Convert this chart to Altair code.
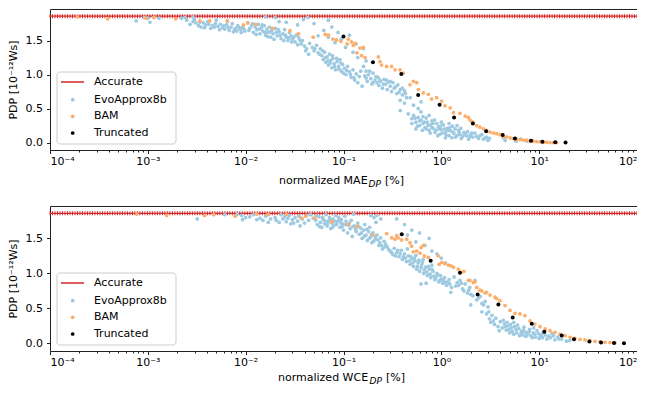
import altair as alt
import numpy as np
import pandas as pd

# ---------------- data ----------------
ACCURATE_PDP = 1.86
X_TICKS = [1e-4, 1e-3, 1e-2, 1e-1, 1e0, 1e1, 1e2]
X_TICK_LABELS = ["10⁻⁴", "10⁻³", "10⁻²", "10⁻¹", "10⁰", "10¹", "10²"]
Y_TICKS = [0.0, 0.5, 1.0, 1.5]
LEGEND_LABELS = ["Accurate", "EvoApprox8b", "BAM", "Truncated"]

# EvoApprox8b: (normalized MAE_DP [%], PDP)
evo_mae = [
    (7.6e-4, 1.79), (9.2e-4, 1.84), (1.0e-3, 1.83), (1.05e-3, 1.77), (1.15e-3, 1.84), (1.3e-3, 1.83),
    (2.2e-3, 1.83), (2.4e-3, 1.84), (2.5e-3, 1.80), (2.9e-3, 1.85),
    (2.7e-3, 1.74), (2.9e-3, 1.78), (3.1e-3, 1.76), (3.3e-3, 1.72), (3.5e-3, 1.70), (3.7e-3, 1.76),
    (3.9e-3, 1.73), (4.1e-3, 1.78), (4.4e-3, 1.68), (4.6e-3, 1.72), (4.9e-3, 1.75), (5.0e-3, 1.80),
    (5.2e-3, 1.71), (5.5e-3, 1.74), (5.8e-3, 1.69), (6.1e-3, 1.67), (6.4e-3, 1.73), (6.5e-3, 1.78),
    (6.8e-3, 1.65), (7.1e-3, 1.70), (7.5e-3, 1.63), (7.9e-3, 1.68), (8.3e-3, 1.72), (8.8e-3, 1.66),
    (9.3e-3, 1.70), (9.8e-3, 1.64),
    (3.0e-3, 1.81), (3.4e-3, 1.77), (3.8e-3, 1.69), (4.2e-3, 1.74), (4.8e-3, 1.70), (5.4e-3, 1.66),
    (6.0e-3, 1.72), (6.6e-3, 1.69), (7.3e-3, 1.75), (7.7e-3, 1.66), (8.1e-3, 1.64), (8.6e-3, 1.69),
    (9.0e-3, 1.62), (9.6e-3, 1.67),
    (1.05e-2, 1.76), (1.1e-2, 1.68), (1.15e-2, 1.72), (1.2e-2, 1.62), (1.25e-2, 1.70), (1.3e-2, 1.66),
    (1.35e-2, 1.74), (1.4e-2, 1.60), (1.45e-2, 1.69), (1.5e-2, 1.64), (1.55e-2, 1.72), (1.6e-2, 1.58),
    (1.65e-2, 1.67), (1.7e-2, 1.62), (1.75e-2, 1.70), (1.8e-2, 1.55), (1.85e-2, 1.65), (1.9e-2, 1.60),
    (2.0e-2, 1.68), (2.1e-2, 1.57), (2.2e-2, 1.63), (2.3e-2, 1.53), (2.4e-2, 1.60), (2.5e-2, 1.66),
    (2.6e-2, 1.55), (2.7e-2, 1.50), (2.8e-2, 1.62), (2.9e-2, 1.57), (3.0e-2, 1.52), (3.2e-2, 1.48),
    (3.3e-2, 1.58), (3.5e-2, 1.54), (3.7e-2, 1.45), (3.8e-2, 1.50), (4.0e-2, 1.42), (4.2e-2, 1.38),
    (4.4e-2, 1.30), (4.5e-2, 1.46), (1.6e-2, 1.85), (2.0e-2, 1.84), (2.2e-2, 1.78), (2.6e-2, 1.77),
    (3.9e-2, 1.81), (4.3e-2, 1.84), (3.4e-2, 1.73),
    (1.08e-2, 1.65), (1.18e-2, 1.75), (1.28e-2, 1.59), (1.38e-2, 1.67), (1.48e-2, 1.73), (1.58e-2, 1.62),
    (1.68e-2, 1.56), (1.78e-2, 1.63), (1.95e-2, 1.52), (2.05e-2, 1.62), (2.15e-2, 1.66), (2.25e-2, 1.58),
    (2.45e-2, 1.50), (2.55e-2, 1.58), (2.75e-2, 1.54), (2.95e-2, 1.48), (3.1e-2, 1.55), (3.4e-2, 1.44),
    (3.6e-2, 1.50), (4.1e-2, 1.35),
    (4.8e-2, 1.40), (5.0e-2, 1.35), (5.3e-2, 1.43), (5.5e-2, 1.32), (5.8e-2, 1.38), (6.0e-2, 1.28),
    (6.2e-2, 1.22), (6.4e-2, 1.33), (6.6e-2, 1.18), (6.8e-2, 1.26), (7.0e-2, 1.14), (7.2e-2, 1.30),
    (7.4e-2, 1.21), (7.6e-2, 1.10), (7.8e-2, 1.24), (8.0e-2, 1.16), (8.3e-2, 1.07), (8.6e-2, 1.19),
    (8.9e-2, 1.12), (9.2e-2, 1.22), (9.5e-2, 1.05), (9.8e-2, 1.15), (0.102, 1.09), (0.106, 1.00),
    (0.11, 1.12), (0.115, 1.04), (0.12, 0.96), (0.125, 1.07), (0.13, 0.92), (0.135, 1.01),
    (0.14, 0.88), (0.145, 0.97), (0.15, 1.05), (0.155, 0.83),
    (5.1e-2, 1.38), (5.7e-2, 1.30), (6.1e-2, 1.35), (6.5e-2, 1.25), (6.9e-2, 1.20), (7.3e-2, 1.17),
    (7.7e-2, 1.28), (8.1e-2, 1.12), (8.5e-2, 1.24), (9.0e-2, 1.08), (9.4e-2, 1.17), (0.1, 1.02),
    (0.108, 1.06), (0.118, 1.00), (0.128, 0.95),
    (5.5e-2, 1.57), (6.3e-2, 1.65), (7.0e-2, 1.55), (7.6e-2, 1.70), (8.2e-2, 1.47), (8.8e-2, 1.62),
    (9.5e-2, 1.52), (0.105, 1.40), (0.115, 1.58), (0.125, 1.33), (0.135, 1.45), (0.14, 1.25),
    (0.16, 1.38), (0.17, 1.20), (0.05, 1.75), (0.07, 1.80),
    (0.16, 1.12), (0.165, 0.98), (0.17, 1.05), (0.175, 0.90), (0.18, 1.00), (0.19, 0.94),
    (0.195, 0.86), (0.2, 1.02), (0.21, 0.92), (0.22, 0.88), (0.225, 0.96), (0.23, 0.84),
    (0.24, 0.90), (0.25, 0.80), (0.26, 0.93), (0.27, 0.86), (0.28, 0.78), (0.29, 0.89),
    (0.3, 0.83), (0.31, 0.75), (0.32, 0.88), (0.33, 0.80), (0.35, 0.72), (0.36, 0.85),
    (0.38, 0.78), (0.4, 0.70), (0.42, 0.76), (0.44, 0.66), (0.38, 0.62), (0.42, 0.58),
    (0.48, 0.66), (0.52, 0.55), (0.58, 0.50), (0.62, 0.60), (0.38, 0.47),
    (0.17, 0.95), (0.185, 1.05), (0.2, 0.88), (0.215, 0.97), (0.235, 0.92), (0.255, 0.86),
    (0.275, 0.92), (0.3, 0.90), (0.34, 0.82), (0.37, 0.74), (0.4, 0.80), (0.43, 0.72),
    (0.46, 0.42), (0.5, 0.35), (0.52, 0.40), (0.55, 0.30), (0.58, 0.37), (0.6, 0.25),
    (0.62, 0.33), (0.65, 0.28), (0.68, 0.22), (0.7, 0.36), (0.72, 0.30), (0.75, 0.18),
    (0.78, 0.26), (0.8, 0.32), (0.83, 0.21), (0.86, 0.15), (0.9, 0.28), (0.93, 0.23),
    (0.96, 0.12), (1.0, 0.19), (1.05, 0.26), (1.1, 0.15), (1.15, 0.21), (1.2, 0.10),
    (1.25, 0.17), (1.3, 0.24), (1.35, 0.13), (1.4, 0.08), (1.5, 0.18), (1.55, 0.12),
    (1.6, 0.06), (1.7, 0.15), (1.8, 0.10), (1.9, 0.05), (2.0, 0.12), (2.1, 0.08),
    (2.2, 0.14), (2.4, 0.06), (2.5, 0.10), (2.7, 0.05), (2.9, 0.08), (3.0, 0.03),
    (4.3, 0.07), (4.5, 0.03), (5.8, 0.02), (6.5, 0.05), (7.5, 0.02), (0.55, 0.20),
    (0.65, 0.38), (0.85, 0.33), (1.0, 0.30), (1.2, 0.28), (0.95, 0.20), (1.1, 0.07),
    (1.45, 0.25), (0.75, 0.40), (0.62, 0.45),
    (0.5, 0.28), (0.54, 0.36), (0.57, 0.24), (0.6, 0.32), (0.64, 0.18), (0.67, 0.30),
    (0.7, 0.20), (0.73, 0.25), (0.77, 0.14), (0.8, 0.22), (0.82, 0.28), (0.88, 0.18),
    (0.92, 0.10), (0.98, 0.24), (1.02, 0.14), (1.08, 0.20), (1.12, 0.11), (1.18, 0.18),
    (1.22, 0.22), (1.28, 0.07), (1.32, 0.15), (1.38, 0.20), (1.45, 0.10), (1.52, 0.15),
    (1.58, 0.21), (1.65, 0.09), (1.75, 0.12), (1.85, 0.16), (1.95, 0.09), (2.05, 0.14),
    (2.3, 0.09), (2.6, 0.12), (2.8, 0.07), (3.1, 0.06),
]

# BAM: (normalized MAE_DP [%], PDP)
bam_mae = [
    (1.9e-4, 1.85), (3.9e-4, 1.82), (9.6e-4, 1.83), (1.16e-3, 1.84), (1.93e-3, 1.82), (3.4e-3, 1.79),
    (4.3e-3, 1.79), (6.5e-3, 1.79), (9.5e-3, 1.73), (1.05e-2, 1.76), (1.27e-2, 1.74), (1.88e-2, 1.68),
    (2.84e-2, 1.645), (3.47e-2, 1.60), (4.9e-2, 1.55), (6.5e-2, 1.59), (7.0e-2, 1.58), (7.8e-2, 1.52),
    (8.5e-2, 1.51), (9.4e-2, 1.49), (0.109, 1.45), (0.112, 1.52), (0.121, 1.48), (0.126, 1.43),
    (0.131, 1.46), (0.137, 1.32), (0.147, 1.39), (0.153, 1.28), (0.159, 1.40), (0.166, 1.25),
    (0.227, 1.26), (0.236, 1.19), (0.245, 1.14), (0.276, 1.12), (0.31, 1.12), (0.336, 1.07),
    (0.378, 1.07), (0.408, 1.02), (0.478, 0.85), (0.518, 0.90), (0.56, 0.88), (0.582, 0.78),
    (0.655, 0.73), (0.736, 0.71), (0.796, 0.64), (0.895, 0.66), (1.01, 0.61), (1.09, 0.54),
    (1.23, 0.51), (1.33, 0.44), (1.55, 0.43), (1.75, 0.39), (1.89, 0.37), (1.96, 0.33),
    (2.05, 0.31), (2.12, 0.29), (2.3, 0.25), (2.48, 0.226), (2.69, 0.202), (2.9, 0.178),
    (3.15, 0.154), (3.4, 0.14), (3.68, 0.13), (3.98, 0.115), (4.3, 0.091), (4.66, 0.082),
    (5.04, 0.067), (5.44, 0.058), (5.89, 0.048), (6.37, 0.043), (6.89, 0.034), (7.46, 0.034),
    (8.05, 0.024), (8.7, 0.019), (9.44, 0.014), (10.2, 0.01), (11.0, 0.005), (11.9, 0.005),
    (12.9, 0.0), (14.0, 0.0), (15.1, 0.0),
]

# Truncated
trunc_pdp = [1.56, 1.18, 1.01, 0.70, 0.557, 0.37, 0.28, 0.167, 0.112, 0.058, 0.027, 0.01, 0.004, 0.0]
trunc_mae = [0.1, 0.2, 0.39, 0.58, 0.96, 1.35, 2.1, 2.87, 4.24, 5.66, 8.26, 10.8, 14.6, 18.6]
trunc_wce = [0.394, 0.778, 1.55, 2.35, 3.83, 5.36, 8.4, 11.3, 17.0, 22.7, 32.6, 42.9, 58.2, 73.6]

# EvoApprox8b: (normalized WCE_DP [%], PDP)
evo_wce = [
    (3.2e-3, 1.78), (6.1e-3, 1.84), (9.1e-3, 1.83), (9.3e-3, 1.77), (1.0e-2, 1.80), (8.2e-3, 1.85),
    (1.1e-2, 1.81), (1.2e-2, 1.84), (1.4e-2, 1.79), (1.5e-2, 1.76), (1.6e-2, 1.82), (1.7e-2, 1.73),
    (2.0e-2, 1.80), (2.05e-2, 1.76), (2.3e-2, 1.84), (2.4e-2, 1.78), (2.5e-2, 1.81), (2.6e-2, 1.74),
    (2.7e-2, 1.79), (2.8e-2, 1.83), (2.9e-2, 1.71), (3.0e-2, 1.77), (3.2e-2, 1.80), (3.4e-2, 1.75),
    (3.6e-2, 1.68), (3.8e-2, 1.78), (4.0e-2, 1.72), (4.2e-2, 1.83), (4.6e-2, 1.84), (4.9e-2, 1.79),
    (1.3e-2, 1.77), (1.8e-2, 1.78), (2.2e-2, 1.73), (3.1e-2, 1.72), (3.5e-2, 1.82), (4.4e-2, 1.76),
    (5.2e-2, 1.76), (5.4e-2, 1.70), (5.6e-2, 1.81), (5.8e-2, 1.73), (6.0e-2, 1.66), (6.2e-2, 1.77),
    (6.4e-2, 1.71), (6.6e-2, 1.84), (6.8e-2, 1.68), (7.0e-2, 1.75), (7.2e-2, 1.80), (7.4e-2, 1.64),
    (7.6e-2, 1.72), (7.8e-2, 1.78), (8.0e-2, 1.69), (8.3e-2, 1.83), (8.6e-2, 1.74), (8.9e-2, 1.80),
    (9.2e-2, 1.66), (9.5e-2, 1.77), (9.8e-2, 1.71), (0.1, 1.62), (0.103, 1.82), (0.106, 1.75),
    (0.11, 1.58), (0.113, 1.69), (0.117, 1.64), (0.12, 1.76), (0.123, 1.53), (0.127, 1.85),
    (5.3e-2, 1.83), (5.7e-2, 1.67), (6.1e-2, 1.80), (6.5e-2, 1.75), (6.9e-2, 1.71), (7.3e-2, 1.77),
    (7.7e-2, 1.66), (8.1e-2, 1.75), (8.5e-2, 1.70), (9.0e-2, 1.76), (9.4e-2, 1.72), (0.097, 1.67),
    (0.105, 1.70), (0.115, 1.72), (0.125, 1.67),
    (0.13, 1.68), (0.135, 1.60), (0.14, 1.72), (0.145, 1.56), (0.15, 1.65), (0.155, 1.50),
    (0.16, 1.62), (0.165, 1.70), (0.17, 1.55), (0.175, 1.47), (0.18, 1.60), (0.185, 1.66),
    (0.19, 1.52), (0.195, 1.44), (0.2, 1.58), (0.205, 1.80), (0.21, 1.49), (0.215, 1.73),
    (0.22, 1.55), (0.23, 1.40), (0.24, 1.51), (0.25, 1.35), (0.26, 1.46), (0.19, 1.83),
    (0.22, 1.83), (0.24, 1.78),
    (0.133, 1.63), (0.143, 1.67), (0.153, 1.58), (0.163, 1.53), (0.173, 1.63), (0.183, 1.50),
    (0.193, 1.56), (0.203, 1.46), (0.213, 1.53), (0.225, 1.48), (0.235, 1.44), (0.245, 1.40),
    (0.265, 1.38), (0.27, 1.42),
    (0.28, 1.38), (0.3, 1.32), (0.32, 1.27), (0.33, 1.36), (0.35, 1.30), (0.37, 1.24),
    (0.39, 1.33), (0.4, 1.20), (0.42, 1.28), (0.44, 1.17), (0.46, 1.25), (0.48, 1.13),
    (0.5, 1.21), (0.52, 1.10), (0.54, 1.18), (0.56, 1.06), (0.58, 1.15), (0.6, 1.03),
    (0.63, 1.12), (0.66, 1.00), (0.69, 1.09), (0.72, 0.97), (0.75, 1.06), (0.78, 0.94),
    (0.82, 1.03), (0.86, 0.91), (0.9, 1.00), (0.94, 0.88), (0.98, 0.97), (1.03, 0.86),
    (1.08, 0.94), (1.13, 0.83), (1.2, 0.91), (1.27, 0.80), (0.62, 0.85), (0.7, 0.86),
    (1.25, 0.73), (0.55, 1.26), (0.65, 1.20), (0.8, 1.12), (0.45, 1.35),
    (0.29, 1.34), (0.31, 1.30), (0.34, 1.25), (0.36, 1.33), (0.38, 1.28), (0.41, 1.24),
    (0.43, 1.22), (0.47, 1.18), (0.49, 1.24), (0.51, 1.15), (0.53, 1.22), (0.57, 1.10),
    (0.59, 1.19), (0.62, 1.08), (0.64, 1.16), (0.67, 1.05), (0.71, 1.02), (0.74, 1.10),
    (0.77, 0.99), (0.8, 1.06), (0.84, 0.96), (0.88, 0.94), (0.92, 0.98), (0.96, 0.90),
    (1.0, 0.92), (1.05, 0.90), (1.1, 0.87), (1.16, 0.88), (1.22, 0.85),
    (0.42, 1.70), (0.45, 1.55), (0.5, 1.62), (0.55, 1.45), (0.6, 1.58), (0.68, 1.40),
    (0.75, 1.50), (0.8, 1.32), (0.9, 1.28), (1.0, 1.22), (1.1, 1.15), (0.35, 1.78),
    (1.35, 0.95), (1.45, 0.87), (1.55, 0.90), (1.65, 0.78), (1.75, 0.85), (1.85, 0.72),
    (1.95, 0.80), (2.1, 0.68), (2.2, 0.90), (2.3, 0.62), (2.5, 0.67), (2.6, 0.57),
    (2.8, 0.60), (2.9, 0.42), (3.0, 0.52), (3.1, 0.35), (3.2, 0.30), (3.3, 0.40),
    (3.5, 0.27), (3.6, 0.36), (3.8, 0.24), (4.0, 0.31), (4.2, 0.22), (2.6, 0.45), (2.0, 0.55),
    (1.4, 0.82), (1.5, 0.83), (1.6, 0.86), (1.7, 0.75), (1.9, 0.76), (2.0, 0.70),
    (2.4, 0.65), (2.7, 0.55), (3.05, 0.45), (3.4, 0.32),
    (4.4, 0.28), (4.6, 0.19), (4.8, 0.25), (5.0, 0.15), (5.2, 0.22), (5.5, 0.13),
    (5.8, 0.20), (6.0, 0.26), (6.3, 0.11), (6.6, 0.17), (7.0, 0.23), (7.3, 0.10),
    (7.7, 0.15), (8.0, 0.20), (8.5, 0.08), (9.0, 0.13), (9.5, 0.18), (10.0, 0.07),
    (10.5, 0.12), (11.0, 0.16), (12.0, 0.06), (12.5, 0.10), (13.5, 0.14), (14.5, 0.05),
    (15.5, 0.09), (17.0, 0.06), (19.0, 0.03), (20.5, 0.04), (4.3, 0.33), (5.5, 0.30),
    (6.8, 0.12), (8.8, 0.22), (3.9, 0.18),
    (4.5, 0.24), (4.7, 0.30), (4.9, 0.20), (5.1, 0.27), (5.3, 0.17), (5.6, 0.24),
    (5.9, 0.15), (6.2, 0.21), (6.5, 0.13), (6.9, 0.19), (7.2, 0.16), (7.5, 0.12),
    (7.9, 0.17), (8.2, 0.11), (8.7, 0.15), (9.2, 0.09), (9.8, 0.14), (10.3, 0.10),
    (10.8, 0.08), (11.5, 0.12), (13.0, 0.08), (14.0, 0.11), (16.0, 0.06),
]

# BAM: (normalized WCE_DP [%], PDP)
bam_wce = [
    (7.7e-4, 1.85), (1.56e-3, 1.83), (3.8e-3, 1.83), (4.7e-3, 1.84), (7.8e-3, 1.82), (1.3e-2, 1.85),
    (1.7e-2, 1.84), (2.6e-2, 1.85), (3.7e-2, 1.79), (4.1e-2, 1.82), (5.1e-2, 1.79), (7.6e-2, 1.74),
    (0.112, 1.705), (0.137, 1.67), (0.199, 1.55), (0.276, 1.57), (0.311, 1.51), (0.336, 1.49),
    (0.35, 1.54), (0.363, 1.51), (0.393, 1.48), (0.443, 1.49), (0.478, 1.44), (0.497, 1.39),
    (0.517, 1.31), (0.56, 1.32), (0.605, 1.29), (0.62, 1.37), (0.655, 1.40), (0.67, 1.25),
    (0.736, 1.23), (0.93, 1.25), (0.95, 1.13), (1.01, 1.16), (1.09, 1.14), (1.18, 1.12),
    (1.25, 1.11), (1.33, 1.09), (1.49, 1.06), (1.61, 1.02), (1.7, 1.03), (1.89, 0.90),
    (1.96, 0.90), (2.12, 0.87), (2.21, 0.88), (2.3, 0.80), (2.48, 0.76), (2.59, 0.75),
    (2.8, 0.72), (2.9, 0.73), (3.15, 0.69), (3.54, 0.66), (3.68, 0.64), (3.98, 0.61),
    (4.48, 0.54), (5.04, 0.47), (5.66, 0.43), (6.37, 0.42), (7.16, 0.395), (8.06, 0.32),
    (9.06, 0.276), (10.2, 0.238), (11.5, 0.205), (12.9, 0.181), (14.5, 0.157), (16.3, 0.133),
    (18.4, 0.11), (20.7, 0.086), (23.2, 0.071), (26.2, 0.057), (29.4, 0.048), (33.1, 0.038),
    (37.2, 0.029), (41.9, 0.024), (47.1, 0.014), (53.0, 0.01), (59.6, 0.005),
]

# ---------------- style ----------------
RED = "#d62728"
BLUE = "#9ecae1"
ORANGE = "#fdae6b"
BLACK = "#000000"
SPINE = "#222222"
FONT = "DejaVu Sans"
W = 587
X_DOMAIN = [1e-4, 1e2]
Y_DOMAIN = [-0.11, 1.965]
MINOR_TICKS = [m * 10.0 ** e for e in range(-4, 2) for m in range(2, 10)]
MARKER_GRID = list(np.logspace(-4, 2, 236))  # sampling of the constant 'Accurate' line

label_expr = "[" + ",".join(f"'{s}'" for s in X_TICK_LABELS) + "][round(log(datum.value)/LN10)+4]"
one = pd.DataFrame({"k": [0]})


def panel(evo, bam, trunc_err, metric, height, title_x, title_y):
    xs = alt.Scale(type="log", domain=X_DOMAIN, nice=False)
    ys = alt.Scale(domain=Y_DOMAIN, nice=False, zero=False)
    major_x = alt.Axis(values=X_TICKS, labelExpr=label_expr, title=None, tickSize=3.5,
                       labelPadding=2, domain=False, grid=False, orient="bottom")
    minor_x = alt.Axis(values=MINOR_TICKS, labels=False, title=None, tickSize=2,
                       domain=False, grid=False, orient="bottom")
    yax = alt.Axis(values=Y_TICKS, format=".1f", title="PDP [10⁻¹²Ws]", tickSize=3.5,
                   labelPadding=4, titlePadding=7, domain=False, grid=False)

    def Y():
        return alt.Y("pdp:Q", scale=ys, axis=yax)

    acc_line = alt.Chart(pd.DataFrame({"pdp": [ACCURATE_PDP]})).mark_rule(
        color=RED, strokeWidth=1.2).encode(y=Y())
    acc_marks = alt.Chart(pd.DataFrame({"err": MARKER_GRID, "pdp": ACCURATE_PDP})).mark_tick(
        orient="vertical", size=4, thickness=1, color=RED, opacity=1).encode(
        x=alt.X("err:Q", scale=xs, axis=minor_x), y=Y())
    evo_l = alt.Chart(pd.DataFrame(evo, columns=["err", "pdp"])).mark_circle(
        size=14, color=BLUE, opacity=1).encode(
        x=alt.X("err:Q", scale=xs, axis=major_x), y=Y())
    bam_l = alt.Chart(pd.DataFrame(bam, columns=["err", "pdp"])).mark_circle(
        size=14, color=ORANGE, opacity=1).encode(
        x=alt.X("err:Q", scale=xs, axis=None), y=Y())
    tr_l = alt.Chart(pd.DataFrame({"err": trunc_err, "pdp": trunc_pdp})).mark_circle(
        size=16, color=BLACK, opacity=1).encode(
        x=alt.X("err:Q", scale=xs, axis=None), y=Y())

    # legend box (matplotlib style, inside lower-left)
    box = alt.Chart(one).mark_rect(fill="white", fillOpacity=0.8, stroke="#cccccc",
                                   strokeWidth=1, cornerRadius=3).encode(
        x=alt.value(7), x2=alt.value(126), y=alt.value(height - 78), y2=alt.value(height - 6))
    rows = [height - 68, height - 50.3, height - 33.7, height - 17]
    leg_line = alt.Chart(one).mark_rule(color=RED, strokeWidth=1.5).encode(
        x=alt.value(11), x2=alt.value(34), y=alt.value(rows[0]))
    leg_dots = [
        alt.Chart(one).mark_circle(size=14, color=c, opacity=1).encode(
            x=alt.value(22.7), y=alt.value(yy))
        for c, yy in zip([BLUE, ORANGE, BLACK], rows[1:])
    ]
    leg_text = [
        alt.Chart(one).mark_text(align="left", baseline="middle", fontSize=11, font=FONT,
                                 color="black", text=lab).encode(
            x=alt.value(44), y=alt.value(yy))
        for lab, yy in zip(LEGEND_LABELS, rows)
    ]

    # x-axis title with subscript
    t_main = alt.Chart(one).mark_text(align="left", baseline="alphabetic", fontSize=11, font=FONT,
                                      color="black", text=f"normalized {metric}").encode(
        x=alt.value(title_x), y=alt.value(title_y))
    sub_x = title_x + (89.5 if metric == "MAE" else 91.5)
    t_sub = alt.Chart(one).mark_text(align="left", baseline="alphabetic", fontSize=9, font=FONT,
                                     fontStyle="italic", color="black", text="DP").encode(
        x=alt.value(sub_x), y=alt.value(title_y + 2.5))
    t_end = alt.Chart(one).mark_text(align="left", baseline="alphabetic", fontSize=11, font=FONT,
                                     color="black", text="[%]").encode(
        x=alt.value(sub_x + 16.5), y=alt.value(title_y))

    return alt.layer(acc_line, acc_marks, evo_l, bam_l, tr_l, box, leg_line, *leg_dots, *leg_text,
                     t_main, t_sub, t_end).resolve_axis(x="independent").properties(
        width=W, height=height)


p1 = panel(evo_mae, bam_mae, trunc_mae, "MAE", 141, 229, 175)
p2 = panel(evo_wce, bam_wce, trunc_wce, "WCE", 145, 228, 175)

chart = alt.vconcat(p1, p2, spacing=56, bounds="flush").properties(
    padding={"left": -2, "top": 0, "right": -2, "bottom": 0}
).configure(font=FONT).configure_view(stroke=SPINE, strokeWidth=1).configure_axis(
    labelFont=FONT, titleFont=FONT, labelFontSize=11, titleFontSize=11, titleFontWeight="normal",
    labelColor="black", titleColor="black", tickColor=SPINE, tickWidth=1
)

chart.save("out.html", embed_options={"renderer": "svg", "actions": False})
